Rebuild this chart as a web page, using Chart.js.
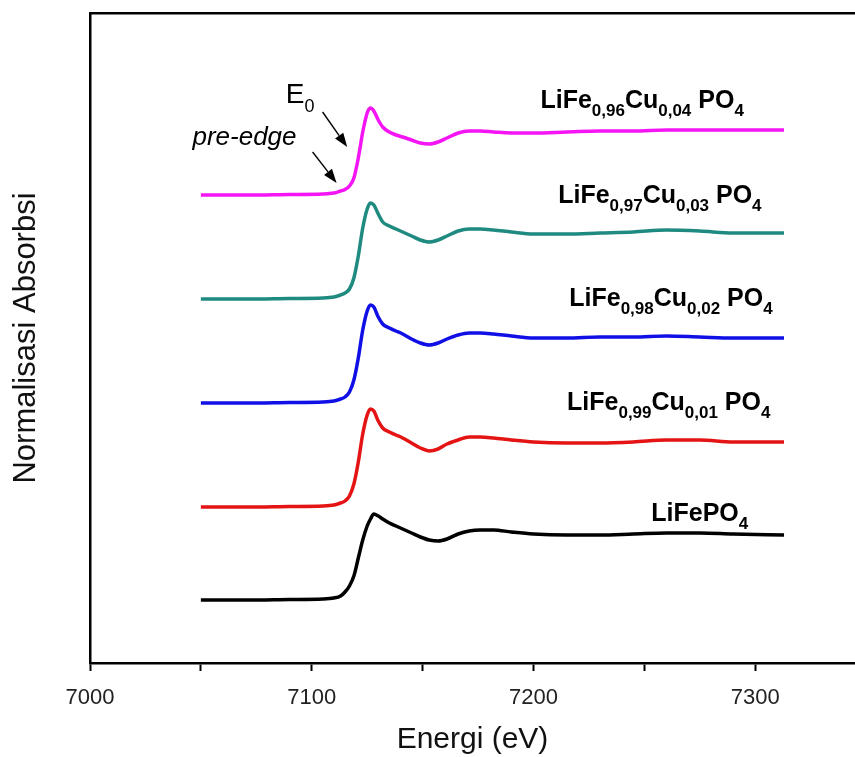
<!DOCTYPE html>
<html><head><meta charset="utf-8">
<script src="https://cdn.jsdelivr.net/npm/chart.js@4.4.0/dist/chart.umd.min.js"></script>
<style>html,body{margin:0;padding:0;background:#fff;overflow:hidden}#wrap{width:855px;height:757px}</style>
</head><body><div id="wrap"><canvas id="c" width="855" height="757"></canvas></div>
<script>
// Energy grid (eV)
const energy = [7050,7070,7090,7105,7110,7113,7115,7117,7119,7121,7123,7125,7126.5,7128,7130,7132,7135,7138,7141,7145,7149,7153,7157,7161,7166,7171,7176,7182,7190,7200,7215,7230,7245,7260,7275,7290,7313];
// Normalised absorbance (with vertical offsets as in the figure)
const cu004 = [4.68,4.68,4.685,4.69,4.70,4.72,4.735,4.77,4.85,5.05,5.31,5.50,5.55,5.52,5.43,5.36,5.31,5.28,5.26,5.23,5.20,5.19,5.21,5.25,5.30,5.32,5.32,5.31,5.30,5.30,5.31,5.32,5.32,5.33,5.33,5.33,5.33];
const cu003 = [3.64,3.64,3.645,3.65,3.66,3.68,3.70,3.74,3.85,4.07,4.35,4.54,4.60,4.58,4.49,4.41,4.37,4.34,4.31,4.27,4.23,4.21,4.23,4.27,4.32,4.34,4.34,4.33,4.31,4.29,4.29,4.30,4.31,4.33,4.32,4.30,4.30];
const cu002 = [2.60,2.60,2.605,2.61,2.62,2.64,2.66,2.71,2.83,3.05,3.33,3.52,3.58,3.56,3.46,3.39,3.35,3.32,3.29,3.24,3.20,3.18,3.20,3.24,3.28,3.30,3.30,3.29,3.27,3.25,3.25,3.26,3.26,3.27,3.26,3.25,3.25];
const cu001 = [1.56,1.56,1.565,1.57,1.58,1.60,1.62,1.67,1.79,2.01,2.29,2.48,2.54,2.52,2.42,2.35,2.31,2.28,2.25,2.20,2.15,2.12,2.14,2.19,2.23,2.26,2.26,2.25,2.23,2.21,2.20,2.20,2.21,2.23,2.23,2.21,2.21];
const lfp    = [0.63,0.63,0.635,0.64,0.65,0.67,0.71,0.77,0.87,1.05,1.23,1.37,1.44,1.49,1.47,1.44,1.40,1.37,1.34,1.30,1.26,1.23,1.22,1.24,1.29,1.32,1.33,1.33,1.31,1.29,1.28,1.28,1.29,1.30,1.30,1.29,1.28];
const seriesColors = ['#f414f4','#1f8a80','#1010e6','#e41414','#000000'];
const xTickValues = [7000,7050,7100,7150,7200,7250,7300];

// Series labels: segments [text, isSubscript]
const seriesLabels = [
  [['LiFe',0],['0,96',1],['Cu',0],['0,04',1],[' PO',0],['4',1]],
  [['LiFe',0],['0,97',1],['Cu',0],['0,03',1],[' PO',0],['4',1]],
  [['LiFe',0],['0,98',1],['Cu',0],['0,02',1],[' PO',0],['4',1]],
  [['LiFe',0],['0,99',1],['Cu',0],['0,01',1],[' PO',0],['4',1]],
  [['LiFePO',0],['4',1]]
];
// label centre (eV) and baseline (absorbance units)
const labelX = [7249,7257,7262,7261,7275];
const labelY = [5.55,4.60,3.57,2.53,1.42];
const arrows = [[7104.9,5.51,7116.0,5.16],[7100.4,5.11,7111.2,4.80]];

const FAM = "'Liberation Sans', Arial, sans-serif";

const annot = {
  id:'annot',
  afterDatasetsDraw(chart){
    const c = chart.ctx, xs = chart.scales.x, ys = chart.scales.y;
    c.save();
    c.fillStyle = '#000'; c.textBaseline = 'alphabetic'; c.textAlign='left';
    const MAIN = "bold 25px "+FAM, SUB = "bold 17px "+FAM;
    seriesLabels.forEach((segs,i)=>{
      let w = 0;
      segs.forEach(([t,sub])=>{ c.font = sub?SUB:MAIN; w += c.measureText(t).width; });
      let x = xs.getPixelForValue(labelX[i]) - w/2;
      const y = ys.getPixelForValue(labelY[i]);
      segs.forEach(([t,sub])=>{
        c.font = sub ? SUB : MAIN;
        c.fillText(t, x, sub ? y+8 : y);
        x += c.measureText(t).width;
      });
    });
    // E0
    let ex = xs.getPixelForValue(7088.3), ey = ys.getPixelForValue(5.60);
    c.font = "28px "+FAM; c.fillText('E', ex, ey);
    ex += c.measureText('E').width;
    c.font = "18px "+FAM; c.fillText('0', ex, ey+9);
    // pre-edge
    c.font = "italic 26px "+FAM;
    c.fillText('pre-edge', xs.getPixelForValue(7046.2), ys.getPixelForValue(5.18));
    // arrows
    arrows.forEach(a=>{
      const x1=xs.getPixelForValue(a[0]), y1=ys.getPixelForValue(a[1]);
      const x2=xs.getPixelForValue(a[2]), y2=ys.getPixelForValue(a[3]);
      const ang=Math.atan2(y2-y1,x2-x1), L=14, W=5;
      const bx=x2-L*Math.cos(ang), by=y2-L*Math.sin(ang);
      c.strokeStyle='#000'; c.lineWidth=1.4;
      c.beginPath(); c.moveTo(x1,y1); c.lineTo(bx,by); c.stroke();
      c.beginPath(); c.moveTo(x2,y2);
      c.lineTo(bx+W*Math.sin(ang), by-W*Math.cos(ang));
      c.lineTo(bx-W*Math.sin(ang), by+W*Math.cos(ang));
      c.closePath(); c.fill();
    });
    c.restore();
  }
};

const series = [cu004,cu003,cu002,cu001,lfp];
new Chart(document.getElementById('c'), {
  type:'line',
  data:{datasets: series.map((s,i)=>({
    data: energy.map((e,j)=>({x:e,y:s[j]})),
    borderColor: seriesColors[i], borderWidth: 3.5, pointRadius: 0,
    cubicInterpolationMode:'monotone', fill:false
  }))},
  options:{
    responsive:false, animation:false, events:[],
    layout:{padding:{left:0,right:0,top:0,bottom:0}},
    plugins:{legend:{display:false}, tooltip:{enabled:false}},
    scales:{
      x:{type:'linear', position:'bottom', min:7000, max:7345,
        afterBuildTicks: s=>{ s.ticks = xTickValues.map(v=>({value:v})); },
        afterFit: s=>{ s.height = 94; },
        ticks:{autoSkip:false, maxRotation:0, padding:14, color:'#222',
          font:{family:FAM, size:22},
          callback: v => (v % 100 === 0 ? String(v) : '')},
        grid:{drawOnChartArea:false, drawTicks:true, tickLength:8, tickColor:'#000', tickWidth:2},
        border:{display:true, color:'#000', width:2.5},
        title:{display:true, text:'Energi (eV)', color:'#111', font:{family:FAM, size:30, lineHeight:1.0}, padding:{top:0,bottom:2}}
      },
      x2:{type:'linear', position:'top', min:7000, max:7345,
        afterFit: s=>{ s.height = 13; },
        ticks:{display:false}, grid:{display:false, drawTicks:false},
        border:{display:true, color:'#000', width:2.5}
      },
      y:{type:'linear', min:0, max:6.5,
        afterFit: s=>{ s.width = 90; },
        ticks:{display:false}, grid:{display:false, drawTicks:false},
        border:{display:true, color:'#000', width:2.5},
        title:{display:true, text:'Normalisasi Absorbsi', color:'#111', font:{family:FAM, size:31}, padding:{top:8,bottom:0}}
      }
    }
  },
  plugins:[annot]
});
</script></body></html>
